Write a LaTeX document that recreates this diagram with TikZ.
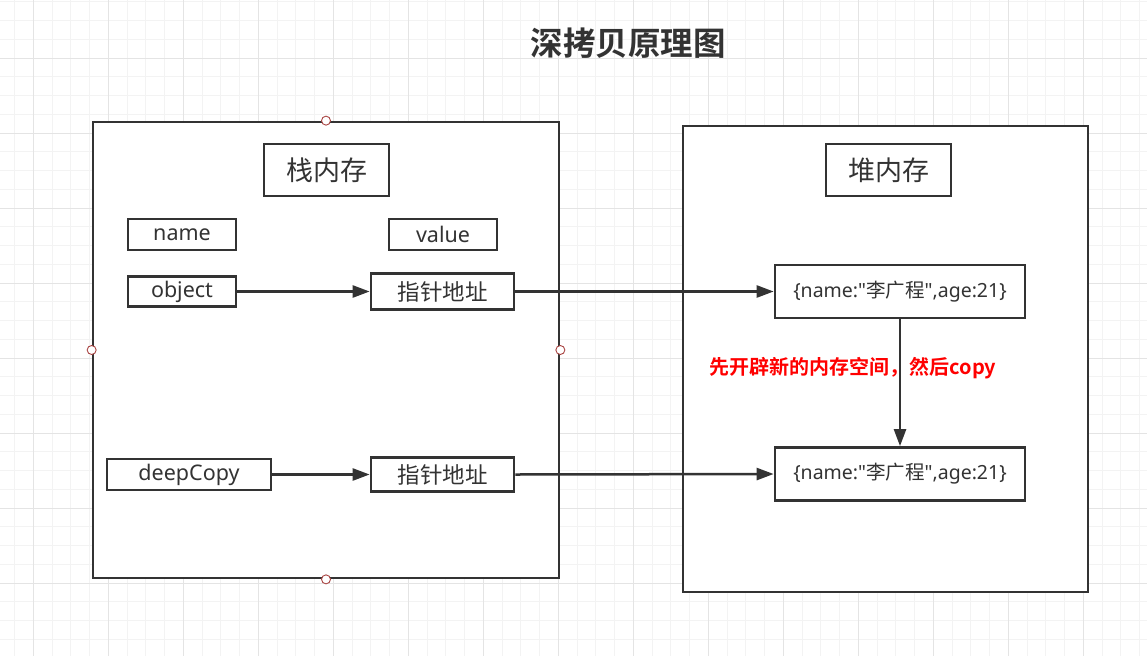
\documentclass[tikz,border=0pt]{standalone}
\usepackage{fontspec}
\setmainfont{Noto Sans}
\newfontfamily\cjk{Noto Sans CJK SC}
\newfontfamily\cjkbold{Noto Sans CJK SC Bold}
\usetikzlibrary{arrows.meta}
\definecolor{ink}{HTML}{333333}
\definecolor{gridminor}{HTML}{F3F3F3}
\definecolor{gridmajor}{HTML}{E4E4E4}
\definecolor{handle}{HTML}{A94442}
\newcommand{\dq}{\XeTeXglyph\XeTeXcharglyph"22\relax}
\tikzset{
  box/.style={draw=ink, line width=2.7pt, fill=white, text=ink, inner sep=0pt, align=center},
  bigbox/.style={draw=ink, line width=2.7pt, fill=white, inner sep=0pt},
  conn/.style={draw=ink, line width=2.5pt, -{Triangle[length=17pt,width=12pt]}},
  handlept/.style={draw=handle, fill=white, line width=0.9pt},
}
\begin{document}
\begin{tikzpicture}[x=1pt,y=-1pt]
\useasboundingbox (0,0) rectangle (1147,656);
\fill[white] (0,0) rectangle (1147,656);
% grid
\foreach \i in {0,...,60} {
  \draw[gridminor, line width=1pt] ({14.5+18.75*\i},0) -- ({14.5+18.75*\i},656);
}
\foreach \j in {0,...,35} {
  \draw[gridminor, line width=1pt] (0,{1.75+18.75*\j}) -- (1147,{1.75+18.75*\j});
}
\foreach \i in {0,...,15} {
  \draw[gridmajor, line width=1pt] ({33.25+75*\i},0) -- ({33.25+75*\i},656);
}
\foreach \j in {0,...,8} {
  \draw[gridmajor, line width=1pt] (0,{58+75*\j}) -- (1147,{58+75*\j});
}
% title
\node[text=ink, font={\cjkbold\fontsize{32.5}{38}\selectfont}] (title) at (628,43) {深拷贝原理图};
% big containers
\node[bigbox, minimum width=466pt, minimum height=456pt] (stack) at (326,350) {};
\node[bigbox, minimum width=405pt, minimum height=466pt] (heap) at (885.5,359) {};
% headers
\node[box, minimum width=125pt, minimum height=52pt, font={\cjk\fontsize{27}{30}\selectfont}] (stackt) at (326.5,170) {栈内存};
\node[box, minimum width=125pt, minimum height=52pt, font={\cjk\fontsize{27}{30}\selectfont}] (heapt) at (888.5,170) {堆内存};
% stack cells
\node[box, minimum width=108pt, minimum height=31pt, font=\fontsize{21.5}{24}\selectfont] (name) at (182,234.5) {name};
\node[box, minimum width=108pt, minimum height=31pt, font=\fontsize{21.5}{24}\selectfont] (value) at (443,234.5) {value};
\node[box, minimum width=108pt, minimum height=30pt, font=\fontsize{21.5}{24}\selectfont] (object) at (182,291.5) {object};
\node[box, minimum width=143pt, minimum height=36pt, font={\cjk\fontsize{22.5}{26}\selectfont}] (ptr1) at (442.5,291.5) {指针地址};
\node[box, minimum width=164pt, minimum height=31pt, font=\fontsize{21.5}{24}\selectfont] (deep) at (189,474.5) {deepCopy};
\node[box, minimum width=143pt, minimum height=34pt, font={\cjk\fontsize{22.5}{26}\selectfont}] (ptr2) at (442.5,474.5) {指针地址};
% heap objects
\node[box, minimum width=250pt, minimum height=53pt, font=\fontsize{19.5}{22}\selectfont] (obj1) at (900,291.5) {\{name:\dq{\cjk 李广程}\dq,age:21\}};
\node[box, minimum width=250pt, minimum height=53pt, font=\fontsize{19.5}{22}\selectfont] (obj2) at (900,474) {\{name:\dq{\cjk 李广程}\dq,age:21\}};
% connectors
\draw[conn] (object.east) -- (ptr1.west);
\draw[conn] (ptr1.east) -- (obj1.west);
\draw[conn] (deep.east) -- (ptr2.west);
\draw[conn] (ptr2.east) -- (obj2.west);
\draw[conn] (obj1.south) -- (obj2.north);
% label
\node[text=red, font={\cjkbold\fontsize{20}{23}\selectfont}, inner sep=0pt] (lbl) at (853,368) {先开辟新的内存空间，然后copy};
% handles
\draw[handlept] (stack.north) circle (4.5);
\draw[handlept] (stack.south) circle (4.5);
\draw[handlept] (stack.west) circle (4.5);
\draw[handlept] (stack.east) circle (4.5);
\end{tikzpicture}
\end{document}
